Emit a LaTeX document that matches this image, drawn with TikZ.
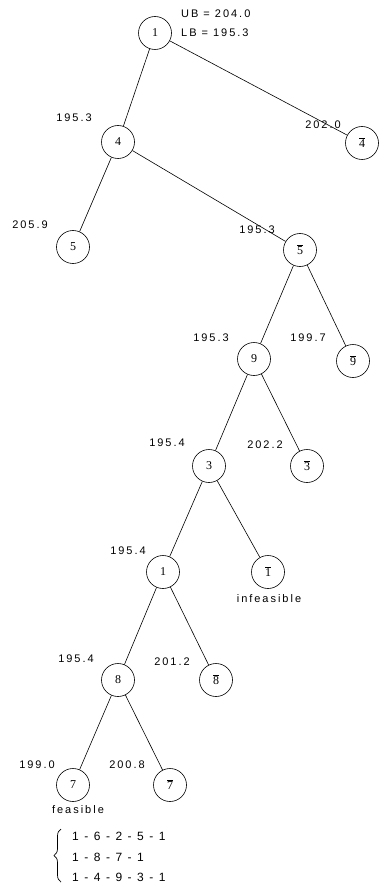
\documentclass[tikz,border=0pt]{standalone}
\usepackage{fontspec}
\setmainfont{Liberation Serif}
\newfontfamily\lblfont[LetterSpace=18]{Liberation Sans}
\usetikzlibrary{decorations.pathreplacing}
\newcommand{\negd}[1]{$\overline{\mbox{#1}}$}
\newcommand{\dsh}{\hspace{5.5pt}-\hspace{5.5pt}}
\begin{document}
\begin{tikzpicture}[x=1pt,y=-1pt,
  bbnode/.style={draw,circle,line width=0.6pt,minimum size=33pt,inner sep=0pt,font=\fontsize{12}{12}\selectfont},
  val/.style={font=\lblfont\fontsize{11}{12}\selectfont,inner sep=0pt},
  tour/.style={font=\lblfont\fontsize{12}{12}\selectfont,inner sep=0pt,anchor=west},
  edge/.style={line width=0.6pt}]
\useasboundingbox (0,0) rectangle (378,885);
% nodes
\node[bbnode] (n1)  at (155,33)  {1};
\node[bbnode] (n4)  at (118,142) {4};
\node[bbnode] (n4b) at (362,143) {\negd{4}};
\node[bbnode] (n5)  at (73,247)  {5};
\node[bbnode] (n5b) at (300,250) {\negd{5}};
\node[bbnode] (n9)  at (254,359) {9};
\node[bbnode] (n9b) at (353,361) {\negd{9}};
\node[bbnode] (n3)  at (209,466) {3};
\node[bbnode] (n3b) at (307,466) {\negd{3}};
\node[bbnode] (n1l) at (163,572) {1};
\node[bbnode] (n1b) at (268,572) {\negd{1}};
\node[bbnode] (n8)  at (118,680) {8};
\node[bbnode] (n8b) at (216,680) {\negd{8}};
\node[bbnode] (n7)  at (73,785)  {7};
\node[bbnode] (n7b) at (170,785) {\negd{7}};
% edges
\draw[edge] (n1) -- (n4);
\draw[edge] (n1) -- (n4b);
\draw[edge] (n4) -- (n5);
\draw[edge] (n4) -- (n5b);
\draw[edge] (n5b) -- (n9);
\draw[edge] (n5b) -- (n9b);
\draw[edge] (n9) -- (n3);
\draw[edge] (n9) -- (n3b);
\draw[edge] (n3) -- (n1l);
\draw[edge] (n3) -- (n1b);
\draw[edge] (n1l) -- (n8);
\draw[edge] (n1l) -- (n8b);
\draw[edge] (n8) -- (n7);
\draw[edge] (n8) -- (n7b);
% labels
\node[val,anchor=west] (ub) at (181,14) {UB = 204.0};
\node[val,anchor=west] (lb) at (181,33) {LB = 195.3};
\node[val] (v4)  at (74,118)  {195.3};
\node[val] (v4b) at (323,125) {202.0};
\node[val] (v5)  at (30,225)  {205.9};
\node[val] (v5b) at (257,230) {195.3};
\node[val] (v9)  at (211,338) {195.3};
\node[val] (v9b) at (308,338) {199.7};
\node[val] (v3)  at (167,443) {195.4};
\node[val] (v3b) at (265,445) {202.2};
\node[val] (v1l) at (128,551) {195.4};
\node[val] (inf) at (269,599) {infeasible};
\node[val] (v8)  at (76,659)  {195.4};
\node[val] (v8b) at (172,662) {201.2};
\node[val] (v7)  at (37,765)  {199.0};
\node[val] (v7b) at (127,765) {200.8};
\node[val] (feas) at (78,810) {feasible};
\node[tour] (t1) at (72,836) {1\dsh6\dsh2\dsh5\dsh1};
\node[tour] (t2) at (72,857) {1\dsh8\dsh7\dsh1};
\node[tour] (t3) at (72,877) {1\dsh4\dsh9\dsh3\dsh1};
\coordinate (bb) at (61,882);
\coordinate (bt) at (61,829);
\draw[line width=0.7pt,decorate,decoration={brace,amplitude=7pt}] (bb) -- (bt);
\end{tikzpicture}
\end{document}
